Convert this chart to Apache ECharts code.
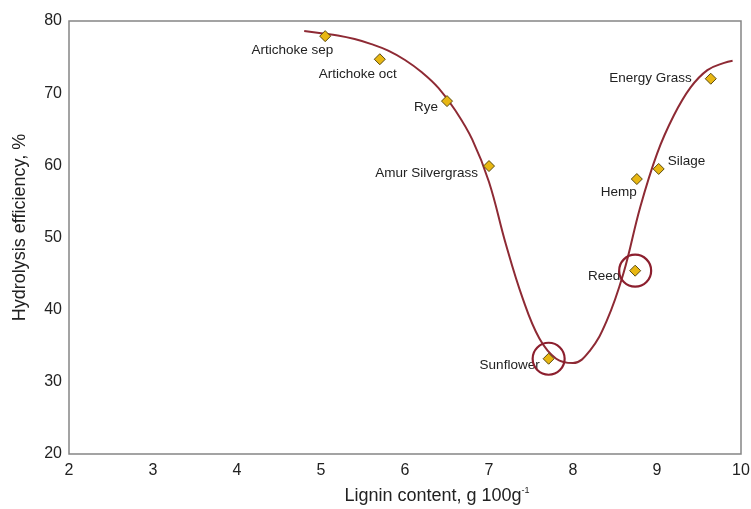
<!DOCTYPE html>
<html><head><meta charset="utf-8">
<script src="https://cdn.jsdelivr.net/npm/echarts@6/dist/echarts.min.js"></script>
<style>html,body{margin:0;padding:0;background:#fff}#c{width:751px;height:509px}</style>
</head><body><div id="c"></div>
<script>
// Data
const sampleNames = ['Artichoke sep','Artichoke oct','Rye','Amur Silvergrass','Sunflower','Reed','Hemp','Silage','Energy Grass'];
const ligninContent = [5.05, 5.70, 6.50, 7.00, 7.71, 8.74, 8.76, 9.02, 9.64];
const hydrolysisEff = [77.9, 74.7, 68.9, 59.9, 33.2, 45.4, 58.1, 59.5, 72.0];
const highlighted = ['Sunflower','Reed'];
const curveX = [4.8, 5.0, 5.2, 5.4, 5.6, 5.8, 6.0, 6.2, 6.4, 6.6, 6.8, 7.0, 7.2, 7.4, 7.6, 7.8, 8.0, 8.2, 8.4, 8.6, 8.8, 9.0, 9.2, 9.4, 9.6, 9.8, 9.9];
const curveY = [78.6, 78.3, 78.0, 77.5, 76.8, 75.9, 74.6, 72.9, 70.7, 67.6, 63.6, 57.7, 49.1, 41.6, 36.0, 33.2, 32.6, 34.3, 38.4, 45.0, 54.2, 61.6, 66.9, 70.8, 73.2, 74.2, 74.5];
const xTicks = [2, 3, 4, 5, 6, 7, 8, 9, 10];
const yTicks = [20, 30, 40, 50, 60, 70, 80];

// label placement (style): [align, dx, dy]
const labelPlace = {
  'Artichoke sep': ['right', 8, 14],
  'Artichoke oct': ['center', -22, 15],
  'Rye': ['right', -9, 6],
  'Amur Silvergrass': ['right', -11, 7],
  'Sunflower': ['right', -9, 7],
  'Reed': ['right', -15, 6],
  'Hemp': ['right', 0, 13],
  'Silage': ['left', 9, -8],
  'Energy Grass': ['right', -19, 0]
};

const chart = echarts.init(document.getElementById('c'));
const pointData = sampleNames.map((n, i) => {
  const p = labelPlace[n];
  return {
    name: n, value: [ligninContent[i], hydrolysisEff[i]],
    label: { show: true, position: 'inside', align: p[0], verticalAlign: 'middle', offset: [p[1], p[2]], formatter: n }
  };
});
const circleData = sampleNames.map((n, i) => highlighted.includes(n) ? [ligninContent[i], hydrolysisEff[i]] : null).filter(d => d);

const font = 'Liberation Sans, Arial, sans-serif';
chart.setOption({
  animation: false,
  backgroundColor: '#fff',
  grid: { left: 69, right: 10, top: 21, bottom: 55, containLabel: false, outerBoundsMode: 'none',
    show: true, borderColor: '#858585', borderWidth: 1.5, backgroundColor: 'transparent' },
  xAxis: {
    type: 'value', min: xTicks[0], max: xTicks[xTicks.length - 1], interval: 1,
    axisLine: { show: false }, axisTick: { show: false }, splitLine: { show: false },
    axisLabel: { color: '#222', fontSize: 16, fontFamily: font, margin: 9 },
    name: 'Lignin content, g 100g{sup|-1}', nameLocation: 'middle', nameGap: 32,
    nameTextStyle: { color: '#222', fontSize: 18, fontFamily: font, padding: [0, 0, 0, 64],
      rich: { sup: { fontSize: 9, color: '#222', fontFamily: font, padding: [0, 0, 11, 0] } } }
  },
  yAxis: {
    type: 'value', min: yTicks[0], max: yTicks[yTicks.length - 1], interval: 10,
    axisLine: { show: false }, axisTick: { show: false }, splitLine: { show: false },
    axisLabel: { color: '#222', fontSize: 16, fontFamily: font, margin: 7 },
    name: 'Hydrolysis efficiency, %', nameLocation: 'middle', nameGap: 40,
    nameTextStyle: { color: '#222', fontSize: 18, fontFamily: font, padding: [0, 0, 0, 20] }
  },
  series: [
    {
      type: 'line', smooth: 0.4, showSymbol: false, silent: true,
      data: curveX.map((x, i) => [x, curveY[i]]),
      lineStyle: { color: '#8e2a34', width: 2 }, z: 2
    },
    {
      type: 'scatter', symbol: 'diamond', symbolSize: 11,
      data: pointData,
      itemStyle: { color: '#e8b712', borderColor: '#5a4a10', borderWidth: 1, opacity: 1 },
      label: { color: '#222', fontSize: 13.5, fontFamily: font }, z: 3
    },
    {
      type: 'scatter', symbol: 'circle', symbolSize: 32, silent: true,
      data: circleData,
      itemStyle: { color: 'rgba(0,0,0,0)', borderColor: '#8c1f2e', borderWidth: 2.2, opacity: 1 }, z: 4
    }
  ]
});
</script></body></html>
